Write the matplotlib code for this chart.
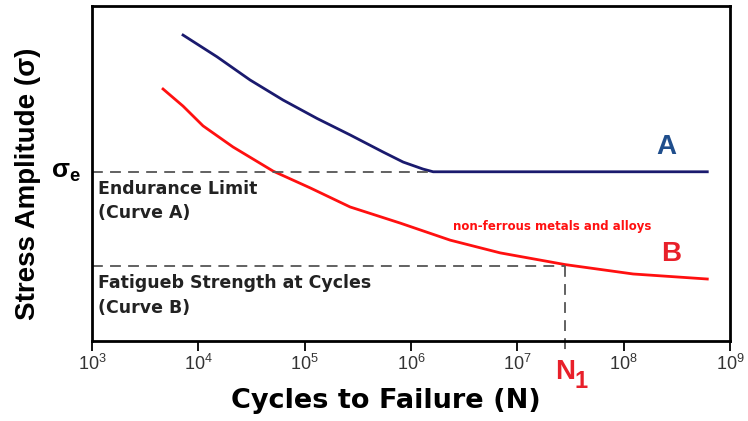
import numpy as np
import matplotlib.pyplot as plt

plt.rcParams['font.family'] = ['Liberation Sans', 'DejaVu Sans']
plt.rcParams['mathtext.fontset'] = 'custom'
plt.rcParams['mathtext.rm'] = 'Liberation Sans'
plt.rcParams['mathtext.it'] = 'Liberation Sans'
plt.rcParams['mathtext.bf'] = 'Liberation Sans:bold'

# curve A (ferrous, has endurance limit): log10(N), stress (arb. units 0-100)
a_logn = [3.856, 4.176, 4.486, 4.797, 5.117, 5.427, 5.737, 5.926, 6.114, 6.208, 8.786]
a_stress = [91.3, 84.8, 77.9, 71.9, 66.4, 61.5, 56.4, 53.4, 51.3, 50.5, 50.5]

# curve B (non-ferrous, no endurance limit)
b_logn = [3.668, 3.856, 4.044, 4.326, 4.703, 5.051, 5.427, 5.897, 6.368, 6.838, 7.450, 8.089, 8.786]
b_stress = [75.2, 70.1, 64.2, 57.9, 50.7, 45.7, 40.0, 35.2, 30.1, 26.3, 22.8, 20.0, 18.5]

sigma_e = 50.5
fatigue_b = 22.4
knee_logn = 6.208
n1_logn = 7.45
decades = [3, 4, 5, 6, 7, 8, 9]

fig = plt.figure(figsize=(7.48, 4.21), dpi=100)
ax = fig.add_axes([0.123, 0.19, 0.853, 0.796])

ax.plot(10 ** np.array(a_logn), a_stress, color='#1a1a6e', lw=2)
ax.plot(10 ** np.array(b_logn), b_stress, color='#ff1010', lw=2)

dash = dict(color='#555555', lw=1.3, ls=(0, (6, 4)))
ax.plot([1e3, 10 ** knee_logn], [sigma_e, sigma_e], **dash)
ax.plot([1e3, 10 ** n1_logn], [fatigue_b, fatigue_b], **dash)
ax.plot([10 ** n1_logn, 10 ** n1_logn], [fatigue_b, -3.5], clip_on=False, **dash)

ax.set_xscale('log')
ax.set_xlim(1e3, 1e9)
ax.set_ylim(0, 100)
ax.set_xticks([10.0 ** d for d in decades])
ax.set_xticklabels([f'$10^{{{d}}}$' for d in decades])
ax.xaxis.set_minor_locator(plt.NullLocator())
ax.set_yticks([])
ax.tick_params(axis='x', direction='out', length=7, width=1.3, labelsize=13,
               labelcolor='#333333', pad=2)
for s in ax.spines.values():
    s.set_linewidth(2)

ax.set_xlabel('Cycles to Failure (N)', fontsize=19.5, fontweight='bold',
              family='DejaVu Sans')
ax.xaxis.set_label_coords(0.46, -0.14)
ax.set_ylabel('Stress Amplitude (σ)', fontsize=20, fontweight='bold')
ax.yaxis.set_label_coords(-0.08, 0.47)

ax.text(-0.018, sigma_e, r'$\mathbf{\sigma_e}$', transform=ax.get_yaxis_transform(),
        ha='right', va='center', fontsize=19)
ax.text(0.01, sigma_e - 2.5, 'Endurance Limit\n(Curve A)', transform=ax.get_yaxis_transform(),
        ha='left', va='top', fontsize=12.5, fontweight='bold', color='#222222',
        linespacing=1.45, family='DejaVu Sans')
ax.text(0.01, fatigue_b - 2.5, 'Fatigueb Strength at Cycles\n(Curve B)',
        transform=ax.get_yaxis_transform(), ha='left', va='top', fontsize=12.5,
        fontweight='bold', color='#222222', linespacing=1.45, family='DejaVu Sans')
ax.text(10 ** 8.4, 58, 'A', fontsize=20, fontweight='bold', color='#1f4e8c', ha='center', va='center')
ax.text(10 ** 8.45, 26, 'B', fontsize=20, fontweight='bold', color='#e8202a', ha='center', va='center')
ax.text(10 ** 7.33, 34.3, 'non-ferrous metals and alloys', fontsize=8.5, fontweight='bold',
        color='#ff1010', ha='center', va='center', family='DejaVu Sans')
ax.annotate('N', xy=(10 ** n1_logn, 0), xytext=(0, -22.5), textcoords='offset points',
            fontsize=20, fontweight='bold', color='#e8202a', ha='center', va='center',
            annotation_clip=False)
ax.annotate('1', xy=(10 ** n1_logn, 0), xytext=(11.5, -29), textcoords='offset points',
            fontsize=17, fontweight='bold', color='#e8202a', ha='center', va='center',
            annotation_clip=False)

fig.savefig('out.png', dpi=100)
